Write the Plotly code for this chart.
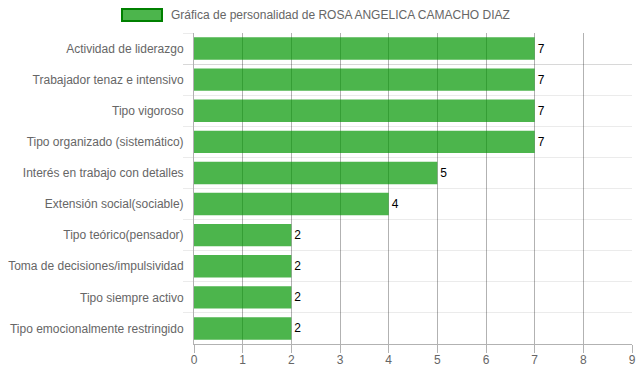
import plotly.graph_objects as go

categories = [
    "Actividad de liderazgo",
    "Trabajador tenaz e intensivo",
    "Tipo vigoroso",
    "Tipo organizado (sistemático)",
    "Interés en trabajo con detalles",
    "Extensión social(sociable)",
    "Tipo teórico(pensador)",
    "Toma de decisiones/impulsividad",
    "Tipo siempre activo",
    "Tipo emocionalmente restringido",
]
values = [7, 7, 7, 7, 5, 4, 2, 2, 2, 2]
series_name = "Gráfica de personalidad de ROSA ANGELICA CAMACHO DIAZ"
x_ticks = list(range(0, 10))

W, H = 639, 372
# plot area in page pixels: x 194..632, y 33..344
L, R, T, B = 194, 639 - 632, 33, 372 - 344
pw, ph = W - L - R, H - T - B

def px_x(p):
    return (p - L) / pw

def px_y(p):
    return (H - B - p) / ph

font_family = "Liberation Sans, Arial, Helvetica, sans-serif"

fig = go.Figure()
fig.add_trace(go.Bar(
    y=categories,
    x=values,
    orientation="h",
    name=series_name,
    marker=dict(color="rgba(0,150,0,0.7)", line=dict(width=0)),
    text=[str(v) for v in values],
    textposition="outside",
    textfont=dict(color="#000000", size=12, family=font_family),
    cliponaxis=False,
    showlegend=False,
))

fig.update_layout(
    width=W, height=H,
    margin=dict(l=L, r=R, t=T, b=B, autoexpand=False),
    paper_bgcolor="white",
    plot_bgcolor="white",
    bargap=0.28,
    showlegend=False,
    font=dict(family=font_family, size=12, color="#666666"),
    xaxis=dict(
        range=[0, 9],
        tickvals=x_ticks,
        ticktext=[str(t) for t in x_ticks],
        automargin=False,
        showgrid=True,
        gridcolor="rgba(0,0,0,0.3)",
        gridwidth=1,
        zeroline=False,
        showline=True,
        linecolor="rgba(0,0,0,0.3)",
        ticks="outside",
        ticklen=8,
        tickcolor="rgba(0,0,0,0.3)",
        ticklabelstandoff=-3,
        tickfont=dict(size=12, color="#666666"),
        layer="above traces",
    ),
    yaxis=dict(
        autorange="reversed",
        type="category",
        automargin=False,
        tickson="boundaries",
        showgrid=True,
        gridcolor="rgba(0,0,0,0.08)",
        ticks="outside",
        ticklen=10,
        tickcolor="rgba(0,0,0,0.08)",
        ticklabelstandoff=7,
        showline=True,
        linecolor="rgba(0,0,0,0.3)",
        tickfont=dict(size=12, color="#666666"),
        zeroline=False,
    ),
)

# legend box + label (Chart.js style)
fig.add_shape(
    type="rect", xref="paper", yref="paper",
    x0=px_x(122), x1=px_x(162), y0=px_y(21), y1=px_y(9),
    fillcolor="rgba(0,150,0,0.7)",
    line=dict(color="#008000", width=2),
)
fig.add_annotation(
    xref="paper", yref="paper",
    x=px_x(169), y=px_y(15),
    xanchor="left", yanchor="middle",
    text=series_name, showarrow=False,
    font=dict(size=12, color="#666666", family=font_family),
)

fig.write_html(
    "out.html",
    config={"displayModeBar": False},
    post_script="document.body.style.margin='0';document.body.style.overflow='hidden';",
)
